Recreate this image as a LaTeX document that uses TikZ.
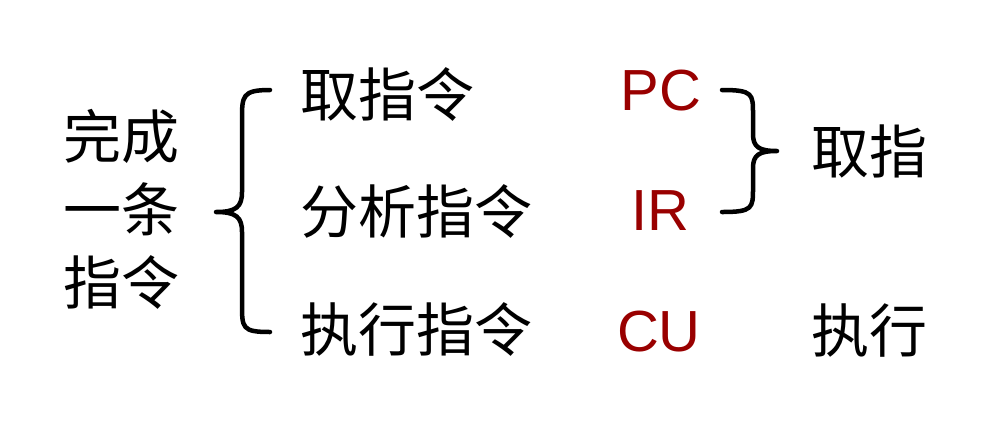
\documentclass[tikz,border=0pt]{standalone}
\usepackage{fontspec}
\usepackage{xcolor}
\usepackage{tikz}
\newfontfamily\cjkfont{Noto Sans CJK SC}
\newfontfamily\regfont{Liberation Sans}
\definecolor{stepred}{HTML}{990000}

\begin{document}
\begin{tikzpicture}[x=1pt, y=-1pt,
    cjklabel/.style={font=\fontsize{58}{73}\selectfont\cjkfont, inner sep=0pt, text=black},
    reglabel/.style={font=\fontsize{58}{73}\selectfont\regfont, inner sep=0pt, text=stepred},
    bracket/.style={line width=4.5pt, line cap=round, line join=round}]
  \useasboundingbox (0,0) rectangle (990,424);
  % whole instruction
  \node[cjklabel, align=center] (task) at (121,209) {完成\\一条\\指令};
  % three steps
  \node[cjklabel, anchor=west] (fetch) at (300,94) {取指令};
  \node[cjklabel, anchor=west] (decode) at (300,211) {分析指令};
  \node[cjklabel, anchor=west] (exec) at (300,329) {执行指令};
  % registers / units
  \node[reglabel] (pc) at (661,91) {PC};
  \node[reglabel] (ir) at (660,211) {IR};
  \node[reglabel] (cu) at (659,332) {CU};
  % phases
  \node[cjklabel] (fetchphase) at (869,151) {取指};
  \node[cjklabel] (execphase) at (869,331) {执行};
  % left brace
  \draw[bracket] (270,90) .. controls (242,90) and (242,96) .. (242,120) -- (242,192)
    .. controls (242,207) and (236,212) .. (216,212)
    .. controls (236,212) and (242,217) .. (242,232) -- (242,304)
    .. controls (242,328) and (242,332) .. (270,332);
  % right brace
  \draw[bracket] (722,90) .. controls (753,90) and (753,94) .. (753,114) -- (753,134)
    .. controls (753,147) and (759,151) .. (777,151)
    .. controls (759,151) and (753,155) .. (753,168) -- (753,188)
    .. controls (753,208) and (753,212) .. (722,212);
\end{tikzpicture}
\end{document}
